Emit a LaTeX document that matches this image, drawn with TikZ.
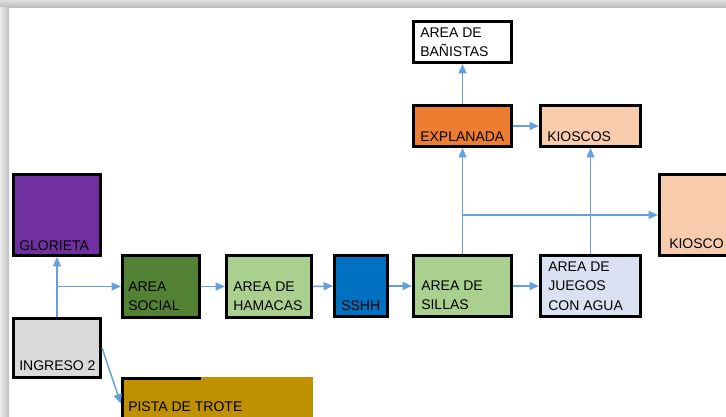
\documentclass[tikz,border=0pt]{standalone}
\usepackage{fontspec}
\setmainfont{Liberation Sans}
\usetikzlibrary{fit,arrows.meta}
\definecolor{morado}{HTML}{7030A0}
\definecolor{verdeosc}{HTML}{548235}
\definecolor{verdecla}{HTML}{A9D08E}
\definecolor{azulss}{HTML}{0070C0}
\definecolor{lavanda}{HTML}{D9E1F2}
\definecolor{naranja}{HTML}{ED7D31}
\definecolor{durazno}{HTML}{F8CBAD}
\definecolor{grisin}{HTML}{D9D9D9}
\definecolor{dorado}{HTML}{BF9000}
\definecolor{flechaazul}{RGB}{100,160,220}
\begin{document}
\begin{tikzpicture}[x=0.75pt, y=-0.75pt,
    box/.style={draw=black, line width=2.4pt, inner sep=0pt},
    txt/.style={anchor=west, inner sep=0pt, align=left, font=\fontsize{10.5}{14.6}\selectfont},
    flecha/.style={draw=flechaazul, line width=1.1pt, -{Triangle[length=7pt,width=6pt]}}]
    \useasboundingbox (0,0) rectangle (726,417);
    \clip (0,0) rectangle (726,417);
    % marco
    \shade[top color=gray!25, bottom color=gray!55] (0,0) rectangle (726,8);
    \shade[left color=gray!15, right color=gray!50] (0,8) rectangle (9,417);
    % cajas
    \node[box, fill=white, fit={(413.5,21.5) (511.5,62.5)}] (banistas) {};
    \node[box, fill=naranja, fit={(413.5,105.5) (511.5,146.5)}] (explanada) {};
    \node[box, fill=durazno, fit={(540.5,105.5) (640.5,146.5)}] (kioscos) {};
    \node[box, fill=durazno, fit={(659.5,174.5) (745,255.5)}] (kiosco) {};
    \node[box, fill=morado, fit={(13.5,174.5) (100.5,255.5)}] (glorieta) {};
    \node[box, fill=verdeosc, fit={(122.5,255.5) (199.5,317.5)}] (social) {};
    \node[box, fill=verdecla, fit={(226.5,255.5) (311.5,317.5)}] (hamacas) {};
    \node[box, fill=azulss, fit={(334.5,255.5) (387.5,316.5)}] (sshh) {};
    \node[box, fill=verdecla, fit={(413.5,255.5) (511.5,316.5)}] (sillas) {};
    \node[box, fill=lavanda, fit={(540.5,255.5) (640.5,316.5)}] (juegos) {};
    \node[box, fill=grisin, fit={(13.5,318.5) (100.5,377.5)}] (ingreso) {};
    \node[fill=dorado, inner sep=0pt, fit={(121,377) (313,430)}] (pista) {};
    \draw[line width=2.4pt] (122.5,430) |- (201,378.5);
    % textos
    \node[txt] (banistas-t) at (420,42.5) {AREA DE\\BAÑISTAS};
    \node[txt] (explanada-t) at (420,137) {EXPLANADA};
    \node[txt] (kioscos-t) at (547,137) {KIOSCOS};
    \node[txt] (kiosco-t) at (669,244) {KIOSCO};
    \node[txt] (glorieta-t) at (19,246) {GLORIETA};
    \node[txt] (social-t) at (128,296) {AREA\\SOCIAL};
    \node[txt] (hamacas-t) at (233,296) {AREA DE\\HAMACAS};
    \node[txt] (sshh-t) at (341,306) {SSHH};
    \node[txt] (sillas-t) at (421,295.5) {AREA DE\\SILLAS};
    \node[txt] (juegos-t) at (548,286) {AREA DE\\JUEGOS\\CON AGUA};
    \node[txt] (ingreso-t) at (19,366) {INGRESO 2};
    \node[txt] (pista-t) at (128,407) {PISTA DE TROTE};
    % flechas
    \draw[flecha] (ingreso.north) -- (glorieta.south);
    \draw[flecha] (glorieta.south |- social.west) -- (social.west);
    \draw[flecha] (ingreso.east) -- (pista.west);
    \draw[flecha] (social.east) -- (hamacas.west);
    \draw[flecha] (hamacas.east) -- (sshh.west);
    \draw[flecha] (sshh.east) -- (sillas.west);
    \draw[flecha] (sillas.east) -- (juegos.west);
    \draw[flecha] (sillas.north) -- (explanada.south);
    \draw[flecha] (sillas.north |- kiosco.west) -- (kiosco.west);
    \draw[flecha] (juegos.north) -- (kioscos.south);
    \draw[flecha] (explanada.east) -- (kioscos.west);
    \draw[flecha] (explanada.north) -- (banistas.south);
\end{tikzpicture}
\end{document}
